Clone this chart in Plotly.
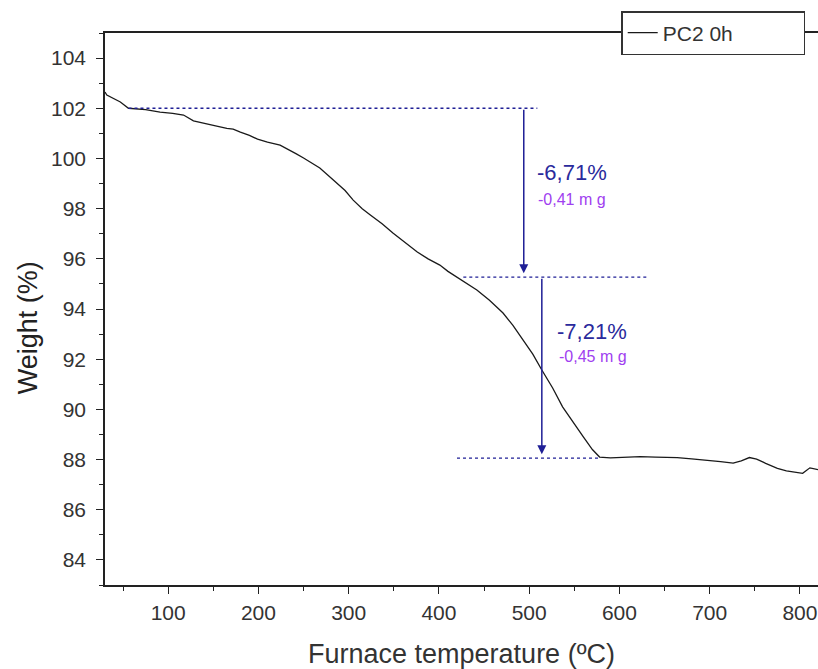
import plotly.graph_objects as go

# TGA curve
temp = [30, 32, 47, 56, 75, 91, 105, 117, 128, 137, 146, 155, 165, 172, 180, 190, 199, 210, 224, 235,
        242, 250, 259, 268, 283, 296, 305, 315, 324, 337, 349, 362, 376, 388, 401, 410, 420, 431,
        442, 456, 471, 482, 493, 504, 514, 526, 537, 549, 560, 570, 578, 590, 600, 610, 623, 640, 664,
        680, 697, 712, 726, 735, 744, 752, 762, 775, 785, 795, 803, 811, 820]
weight = [102.65, 102.53, 102.25, 102.0, 101.95, 101.85, 101.8, 101.73, 101.5, 101.42, 101.33, 101.28,
          101.2, 101.17, 101.05, 100.92, 100.77, 100.65, 100.53, 100.33, 100.18, 100.02, 99.83, 99.62,
          99.14, 98.72, 98.34, 98.0, 97.75, 97.4, 97.03, 96.65, 96.27, 96.0, 95.75, 95.5, 95.27, 95.02,
          94.76, 94.35, 93.84, 93.35, 92.77, 92.2, 91.57, 90.85, 90.1, 89.45, 88.9, 88.4, 88.1,
          88.07, 88.08, 88.1, 88.12, 88.1, 88.08, 88.03, 87.98, 87.92, 87.86, 87.95, 88.08, 88.02,
          87.85, 87.65, 87.55, 87.5, 87.45, 87.67, 87.6]

# step analysis annotations
level_values = [102.0, 95.27, 88.06]
level_x_start = [56, 427, 420]
level_x_end = [509, 632, 578]
arrow_x = [494, 514]
loss_pct = ["-6,71%", "-7,21%"]
loss_mg = ["-0,41 m g", "-0,45 m g"]
label_x = [506, 529]
label_pct_y = [99.46, 93.12]
label_mg_y = [98.38, 92.09]

xticks = [100, 200, 300, 400, 500, 600, 700, 800]
yticks = [84, 86, 88, 90, 92, 94, 96, 98, 100, 102, 104]

NAVY = "#1f1f96"
PURPLE = "#a040f0"
AX = "#222222"
FONT = "Liberation Sans, Arial"

fig = go.Figure()
fig.add_trace(go.Scatter(x=temp, y=weight, mode="lines", name="PC2 0h",
                         line=dict(color="#1a1a1a", width=1.3)))

for yv, x0, x1 in zip(level_values, level_x_start, level_x_end):
    fig.add_trace(go.Scatter(x=[x0, x1], y=[yv, yv], mode="lines", showlegend=False,
                             line=dict(color=NAVY, width=1.3, dash="dot"), hoverinfo="skip"))

annotations = []
for i in range(2):
    annotations.append(dict(x=arrow_x[i], y=level_values[i + 1] + 0.15, ax=arrow_x[i], ay=level_values[i],
                            xref="x", yref="y", axref="x", ayref="y", showarrow=True, text="",
                            arrowhead=2, arrowsize=1.2, arrowwidth=1.5, arrowcolor=NAVY))
    annotations.append(dict(x=label_x[i], y=label_pct_y[i], xref="x", yref="y", text=loss_pct[i],
                            showarrow=False, xanchor="left", yanchor="middle",
                            font=dict(family=FONT, size=22, color="#2a2a9c")))
    annotations.append(dict(x=label_x[i] + 2, y=label_mg_y[i], xref="x", yref="y", text=loss_mg[i],
                            showarrow=False, xanchor="left", yanchor="middle",
                            font=dict(family=FONT, size=16, color=PURPLE)))

# y-axis title (placed slightly below centre, as in the original)
annotations.append(dict(x=-0.108, y=0.467, xref="paper", yref="paper", text="Weight (%)",
                        textangle=-90, showarrow=False, xanchor="center", yanchor="middle",
                        font=dict(family=FONT, size=27, color="#222222")))

fig.update_layout(
    width=818, height=669,
    margin=dict(l=105, r=0, t=33, b=84),
    paper_bgcolor="white", plot_bgcolor="white",
    font=dict(family=FONT, color="#333333"),
    showlegend=True,
    legend=dict(x=0.724, y=1.0, xanchor="left", yanchor="middle", orientation="h",
                bgcolor="white", bordercolor="#333333", borderwidth=1.5,
                entrywidth=136, entrywidthmode="pixels", itemwidth=30,
                font=dict(size=21, color="#333333")),
    annotations=annotations,
)
fig.update_xaxes(range=[30, 820], tickvals=xticks, showgrid=False, zeroline=False,
                 showline=True, linecolor=AX, linewidth=1.5, mirror=True,
                 ticks="outside", ticklen=7, tickwidth=1.3, tickcolor=AX,
                 minor=dict(ticks="outside", ticklen=4, dtick=50, tick0=0, tickcolor=AX, tickwidth=1.3),
                 tickfont=dict(size=21, color="#333333"), ticklabelstandoff=1,
                 title=dict(text="Furnace temperature (ºC)", font=dict(size=27, color="#333333"), standoff=23))
fig.update_yaxes(range=[83, 105], tickvals=yticks, showgrid=False, zeroline=False,
                 showline=True, linecolor=AX, linewidth=1.5,
                 ticks="outside", ticklen=7, tickwidth=1.3, tickcolor=AX,
                 minor=dict(ticks="outside", ticklen=4, dtick=1, tick0=83, tickcolor=AX, tickwidth=1.3),
                 tickfont=dict(size=21, color="#333333"), ticklabelstandoff=6)

fig.write_html("out.html")
